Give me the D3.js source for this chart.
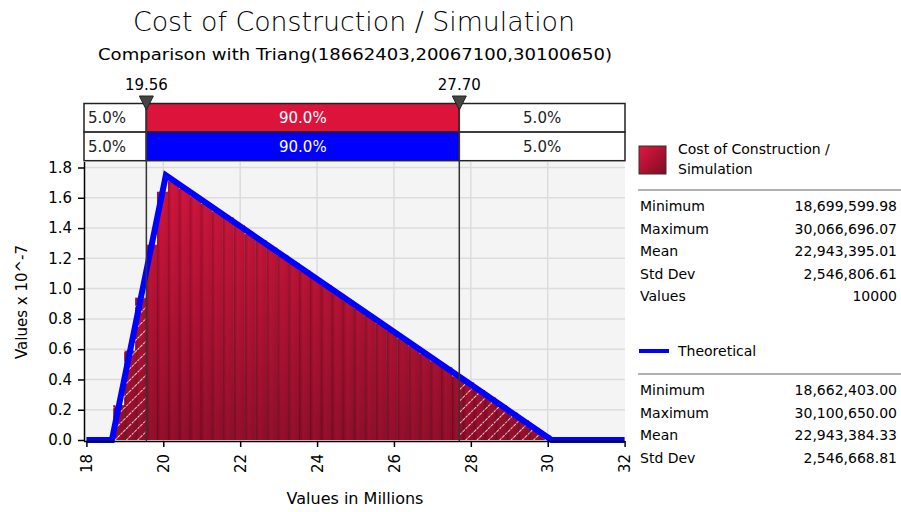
<!DOCTYPE html>
<html>
<head>
<meta charset="utf-8">
<script src="https://cdn.jsdelivr.net/npm/d3@7"></script>
<style>
  html, body { margin: 0; padding: 0; background: #fff; }
  svg { display: block; font-family: Tahoma, "DejaVu Sans", sans-serif; }
</style>
</head>
<body>
<svg id="chart" width="901" height="512"></svg>
<script>
// ---- data ----------------------------------------------------------------
const titleText = "Cost of Construction / Simulation";
const subtitleText = "Comparison with Triang(18662403,20067100,30100650)";
const xTicks = [18, 20, 22, 24, 26, 28, 30, 32];
const yTicks = [0.0, 0.2, 0.4, 0.6, 0.8, 1.0, 1.2, 1.4, 1.6, 1.8];

// simulated histogram: 40 equal bins spanning simulation min..max (millions)
const histMin = 18.6996;
const histMax = 30.0667;
const histDensity = [
  0.23, 0.59, 0.94, 1.29, 1.64, 1.71, 1.66, 1.61, 1.56, 1.51,
  1.47, 1.42, 1.36, 1.32, 1.27, 1.22, 1.17, 1.12, 1.07, 1.02,
  0.97, 0.92, 0.87, 0.82, 0.77, 0.72, 0.67, 0.62, 0.57, 0.52,
  0.48, 0.42, 0.38, 0.33, 0.28, 0.23, 0.18, 0.13, 0.08, 0.03
];

// theoretical triangular density (values x 10^-7)
const theoX = [18, 18.6624, 20.0671, 30.1007, 32];
const theoY = [0, 0, 1.7485, 0, 0];

// delimiters
const delimiters = [19.56, 27.70];
const delimLabels = ["19.56", "27.70"];
const simPct = ["5.0%", "90.0%", "5.0%"];
const theoPct = ["5.0%", "90.0%", "5.0%"];

// statistics
const statNames = ["Minimum", "Maximum", "Mean", "Std Dev", "Values"];
const simStats = ["18,699,599.98", "30,066,696.07", "22,943,395.01", "2,546,806.61", "10000"];
const theoStats = ["18,662,403.00", "30,100,650.00", "22,943,384.33", "2,546,668.81"];

// ---- drawing -------------------------------------------------------------
const svg = d3.select("#chart");
const plot = { left: 84, right: 625, top: 162, bottom: 441 };

const x = d3.scaleLinear().domain([18, 32]).range([86.4, 624.6]);
const y = d3.scaleLinear().domain([0, 1.8]).range([440, 167.5]);

const defs = svg.append("defs");

const barGrad = defs.append("linearGradient").attr("id", "barGrad")
  .attr("x1", "0").attr("x2", "1").attr("y1", "0").attr("y2", "0");
barGrad.append("stop").attr("offset", "0%").attr("stop-color", "#a3102f");
barGrad.append("stop").attr("offset", "35%").attr("stop-color", "#d6163e");
barGrad.append("stop").attr("offset", "100%").attr("stop-color", "#c5143a");

const shade = defs.append("linearGradient").attr("id", "shade")
  .attr("gradientUnits", "userSpaceOnUse")
  .attr("x1", 0).attr("x2", 0).attr("y1", y(1.8)).attr("y2", y(0));
shade.append("stop").attr("offset", "0%").attr("stop-color", "#000").attr("stop-opacity", 0);
shade.append("stop").attr("offset", "100%").attr("stop-color", "#000").attr("stop-opacity", 0.3);

const swatchGrad = defs.append("linearGradient").attr("id", "swatchGrad")
  .attr("x1", "0").attr("x2", "1").attr("y1", "0").attr("y2", "1");
swatchGrad.append("stop").attr("offset", "0%").attr("stop-color", "#e0183f");
swatchGrad.append("stop").attr("offset", "100%").attr("stop-color", "#7e0c24");

const hatch = defs.append("pattern").attr("id", "hatch")
  .attr("patternUnits", "userSpaceOnUse").attr("width", 8).attr("height", 8)
  .attr("patternTransform", "rotate(45)");
hatch.append("line").attr("x1", 0).attr("y1", 0).attr("x2", 0).attr("y2", 8)
  .attr("stroke", "#fff").attr("stroke-width", 1.8).attr("stroke-opacity", 0.9)
  .attr("stroke-dasharray", "2.5,1");

const tailClip = defs.append("clipPath").attr("id", "tailClip");
tailClip.append("rect").attr("x", plot.left).attr("y", plot.top)
  .attr("width", x(delimiters[0]) - plot.left).attr("height", plot.bottom - plot.top);
tailClip.append("rect").attr("x", x(delimiters[1])).attr("y", plot.top)
  .attr("width", plot.right - x(delimiters[1])).attr("height", plot.bottom - plot.top);

// plot background and grid
svg.append("rect").attr("x", plot.left).attr("y", plot.top)
  .attr("width", plot.right - plot.left).attr("height", plot.bottom - plot.top)
  .attr("fill", "#f4f4f4");

svg.append("g").selectAll("line").data(yTicks.slice(1)).join("line")
  .attr("x1", plot.left).attr("x2", plot.right)
  .attr("y1", d => y(d)).attr("y2", d => y(d))
  .attr("stroke", "#dcdcdc").attr("stroke-width", 1.5);
svg.append("g").selectAll("line").data(xTicks.slice(1, -1)).join("line")
  .attr("x1", d => x(d)).attr("x2", d => x(d))
  .attr("y1", plot.top).attr("y2", plot.bottom)
  .attr("stroke", "#dcdcdc").attr("stroke-width", 1.5);

// histogram bars
const binW = (histMax - histMin) / histDensity.length;
const bins = histDensity.map((v, i) => ({ x0: histMin + i * binW, x1: histMin + (i + 1) * binW, v }));

const barsG = svg.append("g");
barsG.selectAll("rect.bar").data(bins).join("rect").attr("class", "bar")
  .attr("x", d => x(d.x0)).attr("width", d => x(d.x1) - x(d.x0) + 0.3)
  .attr("y", d => y(d.v)).attr("height", d => y(0) - y(d.v))
  .attr("fill", "url(#barGrad)");
barsG.selectAll("rect.shade").data(bins).join("rect").attr("class", "shade")
  .attr("x", d => x(d.x0)).attr("width", d => x(d.x1) - x(d.x0) + 0.3)
  .attr("y", d => y(d.v)).attr("height", d => y(0) - y(d.v))
  .attr("fill", "url(#shade)");
barsG.append("g").attr("clip-path", "url(#tailClip)")
  .selectAll("rect").data(bins).join("rect")
  .attr("x", d => x(d.x0)).attr("width", d => x(d.x1) - x(d.x0))
  .attr("y", d => y(d.v)).attr("height", d => y(0) - y(d.v))
  .attr("fill", "url(#hatch)");

// theoretical curve
const theoLine = d3.line().x(d => x(d[0])).y(d => y(d[1]));
svg.append("path").datum(theoX.map((v, i) => [v, theoY[i]]))
  .attr("d", theoLine).attr("fill", "none")
  .attr("stroke", "#0000ff").attr("stroke-width", 6)
  .attr("stroke-linejoin", "miter");

// axes
const xAxis = svg.append("g").attr("transform", `translate(0,${plot.bottom})`)
  .call(d3.axisBottom(x).tickValues(xTicks).tickSize(6).tickFormat(d3.format("d")));
xAxis.select(".domain").attr("d", `M${plot.left},0.5H${plot.right}`).attr("stroke", "#000").attr("stroke-width", 1.5);
xAxis.selectAll(".tick line").attr("stroke", "#000").attr("stroke-width", 1.5);
xAxis.selectAll(".tick text")
  .attr("font-size", 15).attr("fill", "#000").attr("font-family", "DejaVu Sans, sans-serif")
  .attr("transform", "rotate(-90)")
  .attr("text-anchor", "end").attr("x", -13).attr("y", 0).attr("dy", "0.35em");

const yAxis = svg.append("g").attr("transform", `translate(${plot.left},0)`)
  .call(d3.axisLeft(y).tickValues(yTicks).tickSize(6).tickFormat(d3.format(".1f")));
yAxis.select(".domain").attr("d", `M0.5,${plot.top}V${plot.bottom}`).attr("stroke", "#000").attr("stroke-width", 1.5);
yAxis.selectAll(".tick line").attr("stroke", "#000").attr("stroke-width", 1.5);
yAxis.selectAll(".tick text")
  .attr("font-size", 15).attr("fill", "#000").attr("font-family", "DejaVu Sans, sans-serif")
  .attr("x", -12);

// axis titles
svg.append("text").attr("x", 355).attr("y", 504).attr("text-anchor", "middle")
  .attr("font-size", 16).attr("font-family", "DejaVu Sans, sans-serif").text("Values in Millions");
svg.append("text").attr("transform", "translate(27,302) rotate(-90)").attr("text-anchor", "middle")
  .attr("font-size", 15).attr("font-family", "DejaVu Sans, sans-serif").text("Values x 10^-7");

// titles
svg.append("text").attr("x", 354).attr("y", 31).attr("text-anchor", "middle")
  .attr("font-size", 27).attr("font-family", "DejaVu Sans, sans-serif").attr("font-weight", 300)
  .attr("textLength", 442).attr("lengthAdjust", "spacingAndGlyphs").text(titleText);
svg.append("text").attr("x", 355).attr("y", 60).attr("text-anchor", "middle")
  .attr("font-size", 15).attr("font-family", "DejaVu Sans, sans-serif")
  .attr("textLength", 514).attr("lengthAdjust", "spacingAndGlyphs").text(subtitleText);

// delimiter band
const bandTop = 103.5, rowH = 28.6;
const cellEdges = [plot.left, x(delimiters[0]), x(delimiters[1]), plot.right];
const rows = [
  { pct: simPct, color: "#dc143c" },
  { pct: theoPct, color: "#0000ff" }
];
rows.forEach((r, ri) => {
  const ry = bandTop + ri * rowH;
  const g = svg.append("g");
  g.selectAll("rect").data([0, 1, 2]).join("rect")
    .attr("x", i => cellEdges[i]).attr("y", ry)
    .attr("width", i => cellEdges[i + 1] - cellEdges[i]).attr("height", rowH)
    .attr("fill", i => i === 1 ? r.color : "#fff")
    .attr("stroke", "#222").attr("stroke-width", 1.5);
  g.selectAll("text").data([0, 1, 2]).join("text")
    .attr("x", i => i === 0 ? cellEdges[0] + 4 : (cellEdges[i] + cellEdges[i + 1]) / 2)
    .attr("y", ry + rowH / 2).attr("dy", "0.36em")
    .attr("text-anchor", i => i === 0 ? "start" : "middle")
    .attr("font-size", 15).attr("font-family", "DejaVu Sans, sans-serif")
    .attr("fill", i => i === 1 ? "#fff" : "#222")
    .text(i => r.pct[i]);
});

// delimiter lines, markers and labels
const dg = svg.append("g");
dg.selectAll("line").data(delimiters).join("line")
  .attr("x1", d => x(d)).attr("x2", d => x(d))
  .attr("y1", 100).attr("y2", plot.bottom)
  .attr("stroke", "#333").attr("stroke-width", 1.5);
dg.selectAll("path").data(delimiters).join("path")
  .attr("d", d => `M${x(d) - 7},96L${x(d) + 7},96L${x(d)},110Z`)
  .attr("fill", "#444").attr("stroke", "#222").attr("stroke-width", 1);
dg.selectAll("text").data(delimiters).join("text")
  .attr("x", d => x(d)).attr("y", 90).attr("text-anchor", "middle")
  .attr("font-size", 15).attr("font-family", "DejaVu Sans, sans-serif")
  .text((d, i) => delimLabels[i]);

// legend and statistics
const lg = svg.append("g").attr("font-family", "DejaVu Sans, sans-serif").attr("font-size", 14);
lg.append("rect").attr("x", 639).attr("y", 146).attr("width", 27).attr("height", 28)
  .attr("fill", "url(#swatchGrad)").attr("stroke", "#333").attr("stroke-width", 1);
lg.append("text").attr("x", 678).attr("y", 154).text("Cost of Construction /");
lg.append("text").attr("x", 678).attr("y", 174).text("Simulation");
lg.append("line").attr("x1", 638).attr("x2", 901).attr("y1", 190).attr("y2", 190)
  .attr("stroke", "#999").attr("stroke-width", 1.5);

const statG1 = lg.append("g");
statG1.selectAll("text.n").data(statNames).join("text").attr("class", "n")
  .attr("x", 640).attr("y", (d, i) => 206 + i * 22.6).attr("dy", "0.35em").text(d => d);
statG1.selectAll("text.v").data(simStats).join("text").attr("class", "v")
  .attr("x", 897).attr("y", (d, i) => 206 + i * 22.6).attr("dy", "0.35em")
  .attr("text-anchor", "end").text(d => d);

lg.append("line").attr("x1", 639).attr("x2", 669).attr("y1", 351).attr("y2", 351)
  .attr("stroke", "#0000ff").attr("stroke-width", 4);
lg.append("text").attr("x", 678).attr("y", 351).attr("dy", "0.35em").text("Theoretical");
lg.append("line").attr("x1", 638).attr("x2", 901).attr("y1", 374).attr("y2", 374)
  .attr("stroke", "#999").attr("stroke-width", 1.5);

const statG2 = lg.append("g");
statG2.selectAll("text.n").data(statNames.slice(0, theoStats.length)).join("text").attr("class", "n")
  .attr("x", 640).attr("y", (d, i) => 390 + i * 22.6).attr("dy", "0.35em").text(d => d);
statG2.selectAll("text.v").data(theoStats).join("text").attr("class", "v")
  .attr("x", 897).attr("y", (d, i) => 390 + i * 22.6).attr("dy", "0.35em")
  .attr("text-anchor", "end").text(d => d);
</script>
</body>
</html>
